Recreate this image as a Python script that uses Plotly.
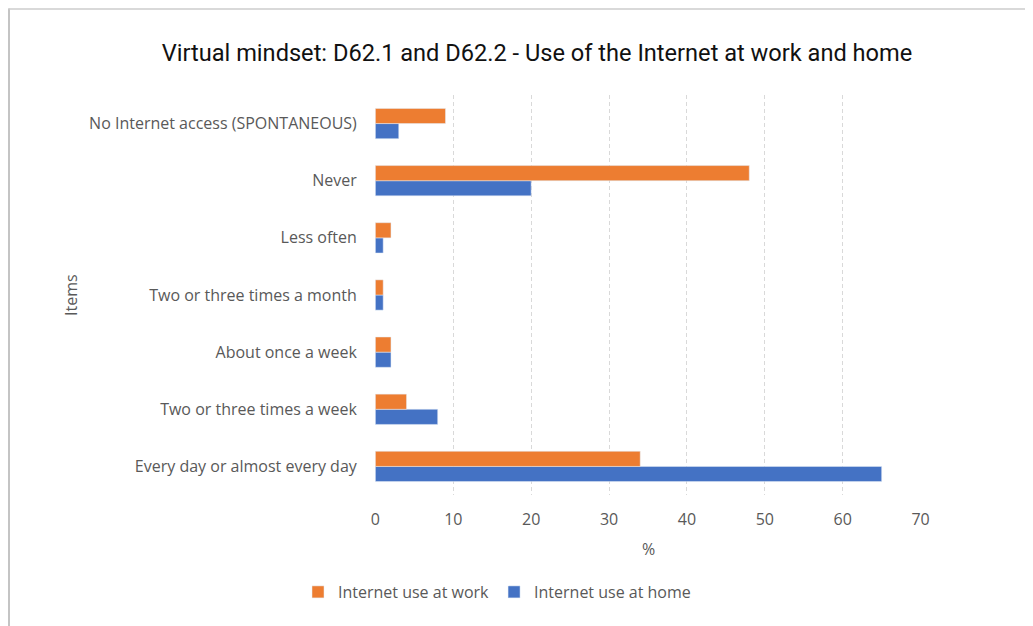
import plotly.graph_objects as go

categories = [
    "Every day or almost every day",
    "Two or three times a week",
    "About once a week",
    "Two or three times a month",
    "Less often",
    "Never",
    "No Internet access (SPONTANEOUS)",
]
home = [65, 8, 2, 1, 1, 20, 3]
work = [34, 4, 2, 1, 2, 48, 9]
x_ticks = [0, 10, 20, 30, 40, 50, 60, 70]

OFF = 8  # page body margin
W, H = 1033, 626
PL, PT, PR, PB = 375, 95, 921, 495  # plot area in page pixels
L, T = PL - OFF, PT - OFF
pw, ph = PR - PL, PB - PT
R = W - L - pw
B = H - T - ph

def px(x):
    return (x - PL) / pw

def py(y):
    return (PB - y) / ph

fig = go.Figure()
fig.add_trace(go.Bar(y=categories, x=home, orientation="h", name="Internet use at home",
                     marker=dict(color="#4472C4")))
fig.add_trace(go.Bar(y=categories, x=work, orientation="h", name="Internet use at work",
                     marker=dict(color="#ED7D31")))

FONT = "Open Sans, Liberation Sans, sans-serif"
tick_font = dict(family=FONT, size=16, color="#595959")

fig.update_layout(
    width=W, height=H,
    margin=dict(l=L, r=R, t=T, b=B),
    paper_bgcolor="white", plot_bgcolor="white",
    barmode="group", bargap=0.47, bargroupgap=0,
    title=dict(text="Virtual mindset: D62.1 and D62.2 - Use of the Internet at work and home",
               x=(537 - OFF) / W, xanchor="center", y=1 - (53 - OFF) / H, yanchor="middle",
               font=dict(family="Roboto, Noto Sans, sans-serif", size=23.6, color="#111111")),
    legend=dict(orientation="h", x=px(497), xanchor="center", y=py(592), yanchor="middle",
                traceorder="reversed", font=tick_font, itemwidth=30),
    xaxis=dict(range=[-0.05, 70.05], tickvals=x_ticks, showgrid=True, gridcolor="#d9d9d9",
               griddash="4px,3px", zeroline=False, showline=False,
               ticks="outside", ticklen=10, tickcolor="rgba(0,0,0,0)", tickfont=tick_font),
    yaxis=dict(showgrid=False, zeroline=False, showline=False,
               ticks="outside", ticklen=14, tickcolor="rgba(0,0,0,0)", tickfont=tick_font),
    showlegend=True,
)

fig.add_annotation(text="%", x=px(648), y=py(549), xref="paper", yref="paper",
                   xanchor="center", yanchor="middle", showarrow=False, font=tick_font)
fig.add_annotation(text="Items", x=px(71), y=py(295), xref="paper", yref="paper",
                   xanchor="center", yanchor="middle", showarrow=False, textangle=-90,
                   font=tick_font)

fig.add_shape(type="line", xref="paper", yref="paper", x0=px(9), x1=px(9),
              y0=py(8.5), y1=py(H + 20), line=dict(color="#b0b0b0", width=1.5))
fig.add_shape(type="line", xref="paper", yref="paper", x0=px(8.5), x1=px(W + 20),
              y0=py(9), y1=py(9), line=dict(color="#cccccc", width=1.5))

fig.write_html("out.html")
